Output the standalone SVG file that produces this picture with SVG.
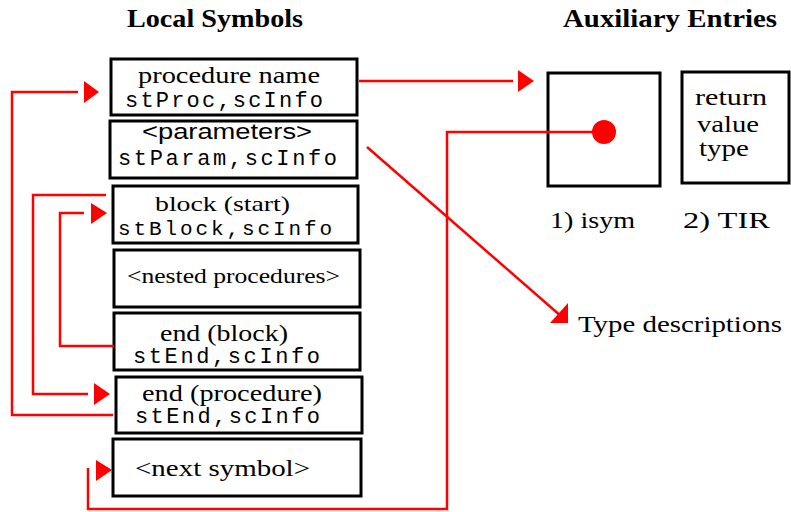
<svg xmlns="http://www.w3.org/2000/svg" width="791" height="512" viewBox="0 0 791 512">
<style>
.box{fill:#fff;stroke:#000;stroke-width:3}
.hdr{font-family:"Liberation Serif",serif;font-weight:bold;font-size:26px;fill:#000}
.serif{font-family:"Liberation Serif",serif;font-size:23px;fill:#000}
.sans{font-family:"Liberation Sans",sans-serif;font-size:22px;fill:#000}
.mono{font-family:"Liberation Mono",monospace;font-size:22px;fill:#000}
.wire{fill:none;stroke:#f00;stroke-width:2.5}
.ah{fill:#f00}
</style>
<rect width="791" height="512" fill="#fff"/>
<text class="hdr" x="127" y="27" textLength="176" lengthAdjust="spacingAndGlyphs">Local Symbols</text>
<text class="hdr" x="563" y="27" textLength="214" lengthAdjust="spacingAndGlyphs">Auxiliary Entries</text>

<g id="proc">
<rect class="box" x="111" y="59" width="246" height="56"/>
<text class="serif" x="138" y="83" textLength="182" lengthAdjust="spacingAndGlyphs">procedure name</text>
<text class="mono" x="125" y="107" textLength="198" lengthAdjust="spacing">stProc,scInfo</text>
</g>
<g id="params">
<rect class="box" x="110" y="121" width="247" height="57"/>
<text class="sans" x="142" y="139" textLength="170" lengthAdjust="spacingAndGlyphs">&lt;parameters&gt;</text>
<text class="mono" x="118" y="165" textLength="219" lengthAdjust="spacing">stParam,scInfo</text>
</g>
<g id="blockstart">
<rect class="box" x="113" y="186" width="245" height="57"/>
<text class="serif" x="155" y="211" textLength="135" lengthAdjust="spacingAndGlyphs" style="font-size:21px">block (start)</text>
<text class="mono" x="118" y="235" textLength="214" lengthAdjust="spacing" style="font-size:21px">stBlock,scInfo</text>
</g>
<g id="nested">
<rect class="box" x="114" y="250" width="246" height="57"/>
<text class="serif" x="127" y="283" textLength="213" lengthAdjust="spacingAndGlyphs" style="font-size:21px">&lt;nested procedures&gt;</text>
</g>
<g id="endblock">
<rect class="box" x="114" y="313" width="246" height="57"/>
<text class="serif" x="160" y="341" textLength="128" lengthAdjust="spacingAndGlyphs">end (block)</text>
<text class="mono" x="133" y="363" textLength="187" lengthAdjust="spacing">stEnd,scInfo</text>
</g>
<g id="endproc">
<rect class="box" x="116" y="377" width="246" height="56"/>
<text class="serif" x="142" y="401" textLength="180" lengthAdjust="spacingAndGlyphs">end (procedure)</text>
<text class="mono" x="135" y="423" textLength="185" lengthAdjust="spacing">stEnd,scInfo</text>
</g>
<g id="next">
<rect class="box" x="113" y="439" width="248" height="57"/>
<text class="serif" x="135" y="476" textLength="175" lengthAdjust="spacingAndGlyphs">&lt;next symbol&gt;</text>
</g>
<g id="isym">
<rect class="box" x="548" y="73" width="112" height="113"/>
<text class="serif" x="550" y="228" textLength="85" lengthAdjust="spacingAndGlyphs">1) isym</text>
</g>
<g id="tir">
<rect class="box" x="682" y="72" width="107" height="111"/>
<text class="serif" x="695" y="105" textLength="72" lengthAdjust="spacingAndGlyphs">return</text>
<text class="serif" x="697" y="132" textLength="62" lengthAdjust="spacingAndGlyphs">value</text>
<text class="serif" x="699" y="156" textLength="50" lengthAdjust="spacingAndGlyphs">type</text>
<text class="serif" x="683" y="228" textLength="87" lengthAdjust="spacingAndGlyphs">2) TIR</text>
</g>
<g id="typedesc">
<text class="serif" x="578" y="332" textLength="204" lengthAdjust="spacingAndGlyphs">Type descriptions</text>
</g>

<g id="connectors">
<polyline class="wire" points="113,415 12,415 12,92 78,92"/>
<polygon class="ah" points="84,81 99,92 84,103"/>
<polyline class="wire" points="106,195 33,195 33,394 88,394"/>
<polygon class="ah" points="94,383 110,394 94,405"/>
<polyline class="wire" points="114,346 60,346 60,213 84,213"/>
<polygon class="ah" points="91,203 107,213 91,224"/>
<polyline class="wire" points="604,132 447,132 447,509 88,509 88,468"/>
<polygon class="ah" points="96,460 112,470 96,481"/>
<circle cx="604" cy="132" r="12" fill="#f00"/>
<line class="wire" x1="359" y1="81" x2="513" y2="81"/>
<polygon class="ah" points="518,70 534,81 518,92"/>
<line class="wire" x1="367" y1="147" x2="562" y2="317"/>
<polygon class="ah" points="550,323 568,303 568,323"/>
</g>
</svg>
